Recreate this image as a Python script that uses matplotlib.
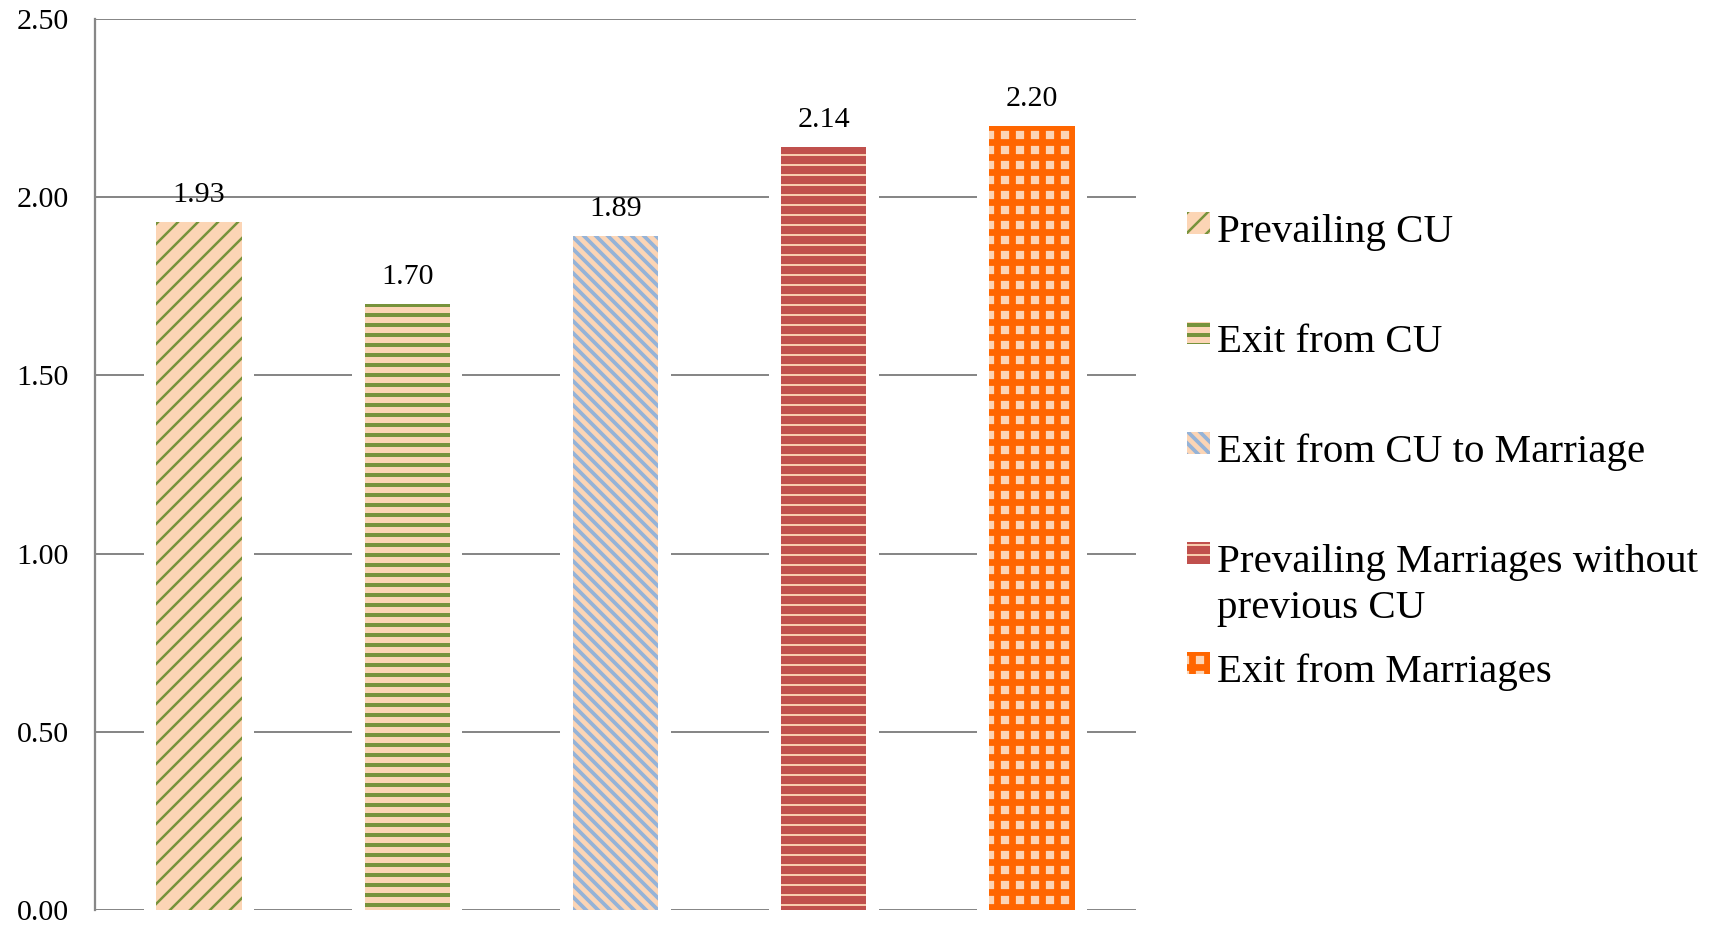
import matplotlib
matplotlib.use('Agg')
import matplotlib.pyplot as plt
from matplotlib.patches import Rectangle

categories = ['Prevailing CU', 'Exit from CU', 'Exit from CU to Marriage',
              'Prevailing Marriages without\nprevious CU', 'Exit from Marriages']
values = [1.93, 1.70, 1.89, 2.14, 2.20]
value_labels = ['1.93', '1.70', '1.89', '2.14', '2.20']
yticks = [0.0, 0.5, 1.0, 1.5, 2.0, 2.5]

face_colors = ['#FCD5B5', '#FCD5B5', '#FCD5B5', '#C0504D', '#FCD5B5']
hatch_colors = ['#77933C', '#77933C', '#95B3D7', '#FCD5B5', '#FF6600']
hatches = ['///', '---', '\\\\\\\\\\', '---', '++']
hatch_lws = [1.0, 1.6, 1.5, 0.75, 2.7]

DPI = 180
W, H = 1718, 929
plt.rcParams['font.family'] = ['Liberation Serif', 'DejaVu Serif']

fig = plt.figure(figsize=(W / DPI, H / DPI), dpi=DPI)
ax = fig.add_axes([95 / W, 1 - 910 / H, (1136 - 95) / W, (910 - 19) / H])

x = list(range(len(values)))
grid_color = '#878787'

# white backing so that gridlines stop short of the bars
ax.bar(x, values, width=0.53, color='white', linewidth=0, zorder=2)

for i, v in enumerate(values):
    plt.rcParams['hatch.linewidth'] = hatch_lws[i]
    b = ax.bar(x[i], v, width=0.41, color=face_colors[i], edgecolor=hatch_colors[i],
               hatch=hatches[i], linewidth=0, zorder=3)[0]
    if hasattr(b, 'set_hatch_linewidth'):
        b.set_hatch_linewidth(hatch_lws[i])
    ax.annotate(value_labels[i], (x[i], v), xytext=(0, 8), textcoords='offset points',
                ha='center', va='baseline', fontsize=12, zorder=5)

ax.set_xlim(-0.5, len(values) - 0.5)
ax.set_ylim(0, 2.5)
ax.set_yticks(yticks)
ax.set_yticklabels([f'{t:.2f}' for t in yticks])
ax.set_xticks([])
ax.tick_params(axis='y', length=0, pad=10.5, labelsize=12)
ax.yaxis.grid(True, color=grid_color, linewidth=0.8, zorder=1)
ax.set_axisbelow(True)
for s in ['top', 'right', 'bottom']:
    ax.spines[s].set_visible(False)
ax.spines['left'].set_color(grid_color)
ax.spines['left'].set_linewidth(0.9)

# legend drawn manually
baselines = [242, 352, 462, 572, 682]
for i, lab in enumerate(categories):
    yb = baselines[i]
    plt.rcParams['hatch.linewidth'] = hatch_lws[i]
    r = Rectangle((1187 / W, 1 - (yb - 8) / H), 23 / W, 22 / H, transform=fig.transFigure,
                  facecolor=face_colors[i], edgecolor=hatch_colors[i], hatch=hatches[i],
                  linewidth=0)
    if hasattr(r, 'set_hatch_linewidth'):
        r.set_hatch_linewidth(hatch_lws[i])
    fig.add_artist(r)
    for j, line in enumerate(lab.split('\n')):
        fig.text(1217 / W, 1 - (yb + 46 * j) / H, line, fontsize=16.4, ha='left', va='baseline')

fig.savefig('out.png', dpi=DPI)
